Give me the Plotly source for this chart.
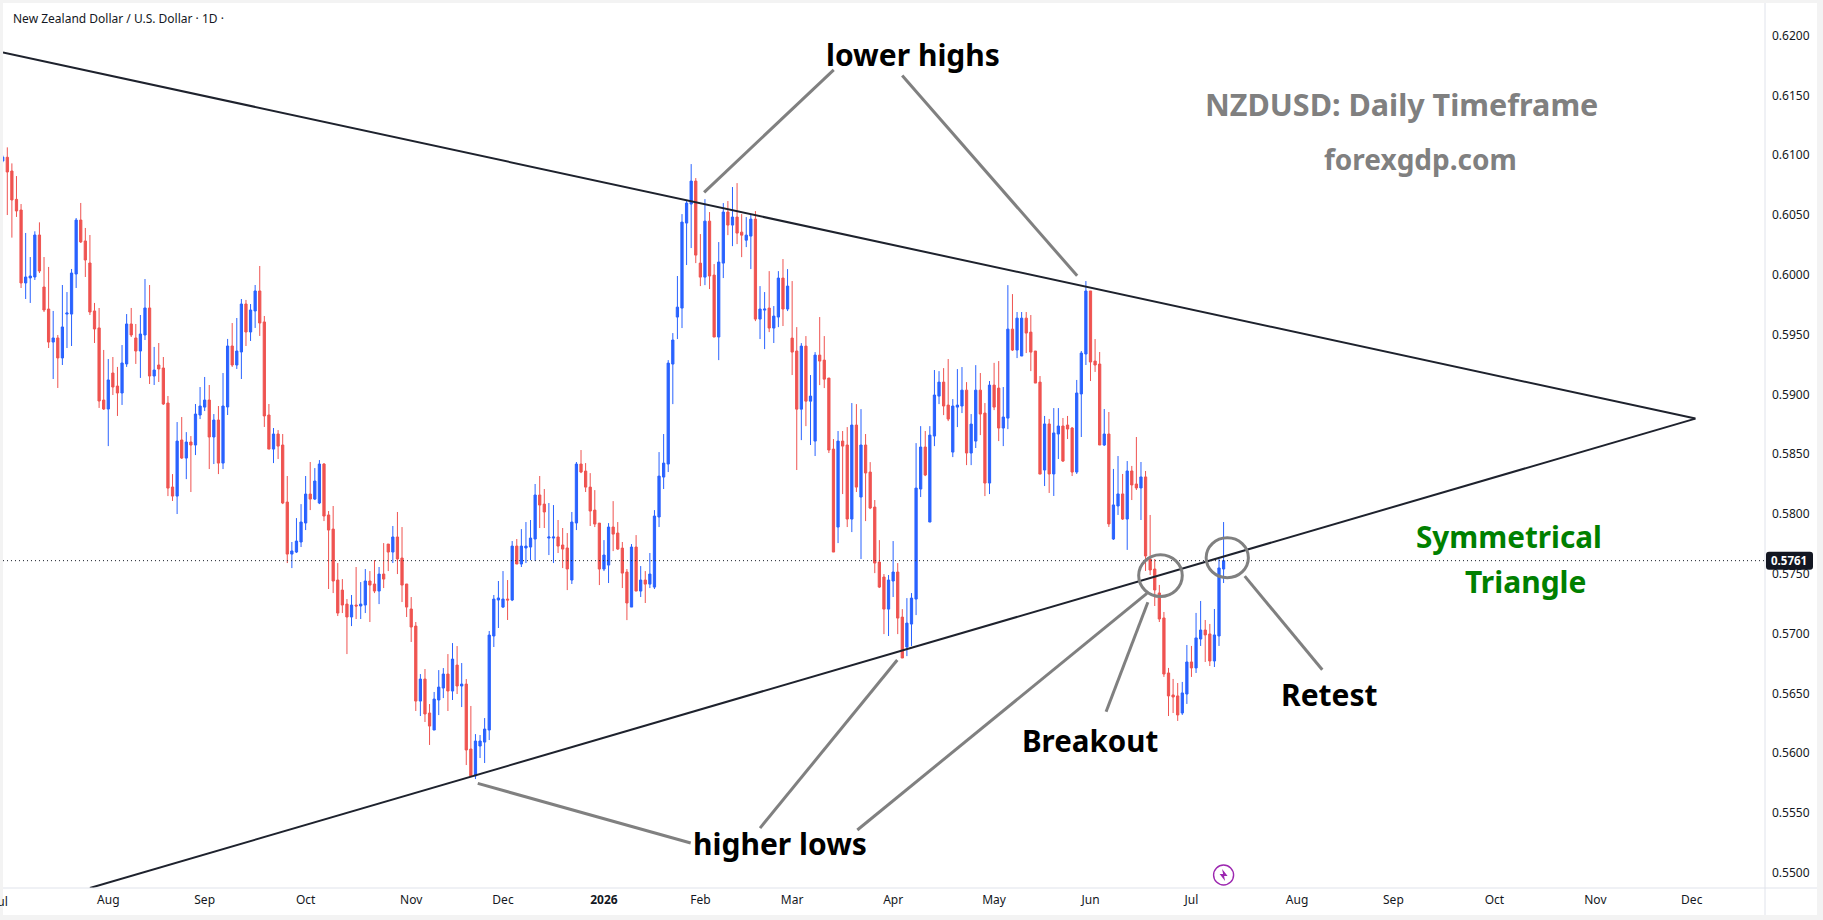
import plotly.graph_objects as go

# Daily NZD/USD candles, oldest first
opens = [
 .60952,.60983,.60868,.60631,.60542,.59932,.59974,.59982,.60333,.59898,.59714,
 .59438,.59472,.59305,.59672,.59672,.60007,.60458,.60283,.60099,.59698,
 .59556,.58953,.58878,.59179,.59070,.59012,.59255,.59589,.59472,.59363,
 .59497,.59723,.59154,.59246,.59221,.58928,.58226,.58150,.58619,.58468,
 .58602,.58577,.58828,.58894,.58953,.58644,.58786,.58426,.58895,.59405,
 .59246,.59355,.59756,.59522,.59698,.59865,.59606,.58828,.58543,.58669,
 .58577,.58100,.57665,.57682,.57766,.57925,.58167,.58125,.58092,.58418,
 .57992,.57874,.57448,.57364,.57247,.57139,.57239,.57231,.57239,.57440,
 .57415,.57356,.57498,.57749,.57682,.57808,.57632,.57415,.57206,.57063,
 .56436,.56620,.56336,.56194,.56445,.56545,.56662,.56520,.56737,.56562,
 .56578,.56035,.55810,.56060,.56093,.56194,.56980,.57281,.57222,.57289,
 .57281,.57732,.57582,.57716,.57724,.57791,.58159,.58083,.57799,.57799,
 .57808,.57741,.57716,.57448,.57925,.58418,.58359,.58225,.58033,.57924,
 .57540,.57573,.57891,.57841,.57715,.57515,.57222,.57724,.57356,.57448,
 .57414,.57389,.57975,.58309,.58418,.59254,.59647,.59722,.60433,.60592,
 .60784,.60098,.59981,.60449,.59998,.59480,.60098,.60525,.60416,.60483,
 .60357,.60290,.60324,.60466,.59630,.59705,.59722,.59555,.59647,.59973,
 .59714,.59471,.59363,.58877,.59404,.58944,.58610,.59329,.59287,.59137,
 .58543,.57891,.58610,.58577,.57958,.58744,.58142,.58577,.58351,.58058,
 .57598,.57473,.57205,.57440,.57515,.57138,.56888,.57080,.57289,.58209,
 .58560,.57933,.58652,.58986,.59103,.58911,.58518,.58894,.58903,.59036,
 .58510,.58610,.59036,.58844,.58259,.59078,.59053,.58719,.58802,.59546,
 .59371,.59321,.59638,.59521,.59363,.59103,.58368,.58753,.58335,.58669,
 .58736,.58744,.58719,.58351,.59004,.59338,.59865,.59279,.59254,.58577,
 .58669,.57791,.58067,.58168,.57958,.58360,.58251,.58218,.58310,.57624,
 .57540,.57340,.57131,.56671,.56487,.56479,.56336,.56495,.56763,.56713,
 .56955,.57030,.56997,.56771,.56980,.57540,
]
highs = [
 .61000,.61066,.60932,.60826,.60592,.60350,.60149,.60364,.60439,.60149,.60066,
 .59698,.59497,.59915,.59856,.60049,.60475,.60601,.60392,.60333,.59765,
 .59723,.59372,.59296,.59313,.59230,.59413,.59672,.59723,.59589,.59664,
 .59965,.59915,.59397,.59430,.59313,.58987,.58334,.58769,.58811,.58685,
 .58652,.58920,.59062,.59146,.59079,.58836,.58903,.59179,.59464,.59597,
 .59639,.59798,.59790,.59756,.59915,.60074,.59656,.58920,.58719,.58702,
 .58669,.58318,.57766,.57966,.58083,.58318,.58435,.58384,.58451,.58426,
 .58025,.58067,.57590,.57456,.57289,.57323,.57557,.57431,.57540,.57523,
 .57615,.57557,.57757,.57749,.57900,.58017,.57891,.57415,.57306,.57097,
 .56662,.56704,.56411,.56512,.56695,.56712,.56829,.56921,.56896,.56754,
 .56620,.56395,.56160,.56152,.56294,.57022,.57323,.57440,.57523,.57448,
 .57774,.57791,.57874,.57933,.57950,.58251,.58318,.58209,.58092,.58075,
 .57950,.57883,.57841,.58017,.58435,.58535,.58426,.58342,.58200,.57924,
 .57782,.57924,.58108,.57933,.57766,.57540,.57749,.57824,.57565,.57523,
 .57674,.58033,.58518,.58669,.59287,.59513,.59990,.60508,.60617,.60926,
 .60809,.60341,.60633,.60525,.60090,.60274,.60600,.60617,.60734,.60767,
 .60508,.60483,.60508,.60533,.59906,.59856,.60031,.59739,.60031,.60132,
 .60048,.59948,.59563,.59429,.59488,.59162,.59354,.59647,.59488,.59137,
 .58627,.58694,.58694,.58727,.58928,.58919,.58877,.58669,.58434,.58117,
 .57782,.57498,.57490,.57774,.57590,.57205,.57297,.57339,.58593,.58735,
 .58694,.58735,.59204,.59195,.59220,.59296,.58961,.59212,.59229,.59103,
 .58836,.59245,.59179,.58928,.59112,.59264,.59279,.59062,.59914,.59839,
 .59689,.59689,.59689,.59664,.59363,.59154,.58820,.58795,.58886,.58886,
 .58803,.58820,.58728,.59121,.59363,.59948,.59865,.59463,.59355,.58878,
 .58853,.58377,.58485,.58335,.58443,.58402,.58644,.58435,.58360,.57992,
 .57624,.57407,.57181,.56713,.56621,.56587,.56596,.56905,.56897,.57173,
 .57273,.57114,.57081,.57206,.57624,.57933,
]
lows = [
 .60940,.60500,.60311,.60484,.59890,.59798,.59765,.59957,.60015,.59689,.59388,
 .59129,.59054,.59246,.59388,.59405,.59890,.60266,.59982,.59664,.59430,
 .58887,.58870,.58568,.58995,.58820,.58912,.59230,.59480,.59255,.59138,
 .59455,.59087,.59079,.59104,.58912,.58150,.58109,.58000,.58460,.58292,
 .58184,.58493,.58794,.58861,.58376,.58418,.58334,.58376,.58828,.59230,
 .59213,.59129,.59405,.59447,.59556,.59489,.58728,.58543,.58426,.58460,
 .58083,.57590,.57548,.57674,.57724,.57866,.58033,.58117,.58083,.57941,
 .57373,.57339,.57147,.57172,.56829,.57063,.57122,.57122,.57172,.57097,
 .57339,.57247,.57381,.57523,.57590,.57498,.57264,.57139,.56930,.56353,
 .56311,.56261,.56069,.56194,.56319,.56461,.56353,.56445,.56495,.56386,
 .55901,.55801,.55784,.55960,.55918,.56110,.56888,.57047,.57214,.57114,
 .57272,.57582,.57557,.57590,.57615,.57607,.57883,.57883,.57657,.57590,
 .57674,.57548,.57364,.57415,.57866,.58342,.58184,.57900,.57891,.57406,
 .57523,.57423,.57690,.57699,.57381,.57113,.57222,.57356,.57306,.57256,
 .57381,.57373,.57891,.58209,.58351,.58919,.59463,.59555,.60082,.60224,
 .60098,.59906,.59914,.59881,.59480,.59287,.59973,.60332,.60240,.60257,
 .60148,.60232,.60048,.59613,.59463,.59379,.59521,.59430,.59563,.59572,
 .59697,.59162,.58368,.58618,.58735,.58577,.58485,.59078,.59053,.58510,
 .57682,.57757,.58167,.57891,.57849,.58184,.57624,.57941,.58041,.57506,
 .57381,.56996,.56980,.57306,.56996,.56796,.56812,.56896,.57155,.58142,
 .58317,.57933,.58568,.58919,.58827,.58777,.58476,.58727,.58844,.58409,
 .58409,.58552,.58660,.58150,.58167,.58869,.58610,.58568,.58710,.59363,
 .59304,.59321,.59346,.59195,.59095,.58334,.58234,.58176,.58151,.58460,
 .58435,.58627,.58318,.58335,.58644,.59246,.59112,.59188,.58577,.58569,
 .57892,.57783,.57992,.57950,.57700,.58117,.58201,.57950,.57524,.57490,
 .57231,.57097,.56638,.56311,.56336,.56270,.56320,.56412,.56638,.56671,
 .56897,.56763,.56729,.56721,.56897,.57423,
]
closes = [
 .60985,.60860,.60626,.60534,.59932,.59982,.59990,.60333,.60032,.59706,.59438,
 .59472,.59305,.59564,.59681,.60015,.60458,.60275,.60124,.59689,.59547,
 .58945,.58878,.59121,.59062,.59012,.59263,.59589,.59497,.59363,.59505,
 .59723,.59154,.59204,.59213,.58920,.58217,.58150,.58610,.58468,.58602,
 .58577,.58836,.58903,.58953,.58644,.58786,.58426,.58903,.59405,.59246,
 .59363,.59756,.59522,.59706,.59865,.59597,.58820,.58543,.58669,.58568,
 .58092,.57665,.57691,.57774,.57933,.58167,.58125,.58276,.58418,.57983,
 .57866,.57440,.57172,.57239,.57139,.57239,.57231,.57247,.57440,.57406,
 .57356,.57498,.57456,.57682,.57808,.57624,.57406,.57222,.57055,.56436,
 .56620,.56328,.56227,.56453,.56553,.56662,.56520,.56787,.56562,.56578,
 .56027,.55810,.56102,.56102,.56202,.56988,.57289,.57298,.57289,.57281,
 .57732,.57582,.57732,.57732,.57799,.58159,.58075,.58017,.57808,.57808,
 .57732,.57707,.57540,.57933,.58418,.58351,.58225,.58025,.57916,.57540,
 .57657,.57891,.57832,.57707,.57506,.57256,.57724,.57356,.57448,.57414,
 .57498,.57983,.58317,.58426,.59262,.59455,.59730,.60441,.60600,.60784,
 .60165,.59981,.60449,.59990,.59480,.60107,.60525,.60416,.60483,.60349,
 .60332,.60332,.60466,.59630,.59714,.59714,.59555,.59655,.59973,.59714,
 .59906,.59354,.58877,.59404,.58944,.58986,.59329,.59279,.59128,.58535,
 .57682,.58610,.58568,.57958,.58744,.58225,.58577,.58343,.58050,.57590,
 .57389,.57205,.57448,.57515,.57130,.56796,.57088,.57297,.58217,.58560,
 .58326,.58660,.58995,.59103,.58903,.58794,.58903,.58911,.59036,.58510,
 .58752,.59036,.58836,.58259,.59078,.58894,.58719,.58811,.59546,.59371,
 .59638,.59638,.59513,.59354,.59095,.58334,.58753,.58335,.58678,.58736,
 .58443,.58711,.58351,.59012,.59346,.59865,.59271,.59246,.58577,.58669,
 .57917,.58076,.58168,.57958,.58360,.58243,.58218,.58310,.57649,.57532,
 .57365,.57122,.56662,.56479,.56470,.56320,.56504,.56763,.56713,.56964,
 .57030,.56989,.56771,.56989,.57549,.57610,
]
assert len(opens) == len(highs) == len(lows) == len(closes)

bar_index = list(range(len(closes)))
last_price = 0.5761

# Axis labels; the x axis counts trading sessions and runs past the last bar
month_ticks = [23, 44, 66, 89, 109, 131, 152, 172, 194, 216, 237, 259, 282, 303, 325, 347, 368]
month_labels = ["Aug", "Sep", "Oct", "Nov", "Dec", "<b>2026</b>", "Feb", "Mar", "Apr", "May",
                "Jun", "Jul", "Aug", "Sep", "Oct", "Nov", "Dec"]
price_ticks = [0.55, 0.555, 0.56, 0.565, 0.57, 0.575, 0.58, 0.585, 0.59, 0.595, 0.60, 0.605, 0.61, 0.615, 0.62]

# Triangle boundaries, as (session, price) end points
upper_trend_x, upper_trend_y = [0.06, 368.8], [0.61860, 0.58798]
lower_trend_x, lower_trend_y = [19.0, 368.8], [0.54873, 0.58798]

# Grey pointer segments, as session and price pairs
pointers = [
    (181.06, 0.61714, 152.82, 0.60690),
    (195.97, 0.61666, 234.10, 0.59992),
    (149.90, 0.55249, 103.50, 0.55748),
    (165.00, 0.55374, 194.90, 0.56779),
    (186.20, 0.55358, 249.30, 0.57337),
    (240.40, 0.56347, 249.50, 0.57262),
    (270.60, 0.57481, 287.50, 0.56698),
]
circles = [
    (247.5, 0.57660, 257.0, 0.57310),
    (262.2, 0.57801, 271.4, 0.57467),
]

# Callout texts with their session and price anchors
callouts = [
    ("lower highs", 198.3, 0.61841, "#000000", 30),
    ("higher lows", 169.4, 0.55249, "#000000", 30),
    ("Breakout", 237.0, 0.56105, "#000000", 29.5),
    ("Retest", 289.0, 0.56488, "#000000", 30),
    ("Symmetrical", 328.2, 0.57808, "#008000", 29.7),
    ("Triangle", 331.7, 0.57437, "#008000", 30),
    ("NZDUSD: Daily Timeframe", 304.7, 0.61432, "#808080", 30.5),
    ("forexgdp.com", 308.8, 0.60968, "#808080", 28),
]

UP = "#2962FF"
DOWN = "#EF5350"
INK = "#131722"
AXIS = "#E0E3EB"
BAND = "#F3F3F3"
FONT = "Noto Sans"

fig = go.Figure()
fig.add_trace(go.Candlestick(
    x=bar_index, open=opens, high=highs, low=lows, close=closes,
    whiskerwidth=0, hoverinfo="skip",
    increasing=dict(line=dict(color=UP, width=1), fillcolor=UP),
    decreasing=dict(line=dict(color=DOWN, width=1), fillcolor=DOWN),
))
fig.add_trace(go.Scatter(
    x=[0.06, 383.96], y=[last_price, last_price], mode="lines",
    line=dict(color=INK, width=1, dash="1px,3px"), hoverinfo="skip",
))
for tx, ty in [(upper_trend_x, upper_trend_y), (lower_trend_x, lower_trend_y)]:
    fig.add_trace(go.Scatter(x=tx, y=ty, mode="lines",
                             line=dict(color="#1E222D", width=2), hoverinfo="skip"))

shapes = [
    # white axis strips and their border lines
    dict(type="rect", xref="paper", yref="paper", x0=1, x1=1.0295, y0=-0.0305, y1=1,
         fillcolor="white", line_width=0, layer="below"),
    dict(type="rect", xref="paper", yref="paper", x0=0, x1=1, y0=-0.0305, y1=0,
         fillcolor="white", line_width=0, layer="below"),
    dict(type="line", xref="paper", yref="paper", x0=0, x1=1.0295, y0=0, y1=0,
         line=dict(color=AXIS, width=1)),
    dict(type="line", xref="paper", yref="paper", x0=1, x1=1, y0=-0.0305, y1=1,
         line=dict(color=AXIS, width=1)),
]
for x0, y0, x1, y1 in pointers:
    shapes.append(dict(type="line", xref="x", yref="y", x0=x0, y0=y0, x1=x1, y1=y1,
                       line=dict(color="#808080", width=3)))
for x0, y0, x1, y1 in circles:
    shapes.append(dict(type="circle", xref="x", yref="y", x0=x0, y0=y0, x1=x1, y1=y1,
                       line=dict(color="#808080", width=3)))

# Rounded tag behind the last price on the price axis
shapes.append(dict(
    type="path", xref="paper", yref="y", xsizemode="pixel", ysizemode="pixel",
    xanchor=1, yanchor=last_price,
    path="M 4 -9 L 45 -9 Q 48 -9 48 -6 L 48 6 Q 48 9 45 9 L 4 9 Q 1 9 1 6 L 1 -6 Q 1 -9 4 -9 Z",
    fillcolor=INK, line_width=0,
))
# Lightning marker on the time scale
mark_x, mark_y = 266, 0.54982
shapes.append(dict(type="circle", xref="x", yref="y", xsizemode="pixel", ysizemode="pixel",
                   xanchor=mark_x, yanchor=mark_y, x0=-10, x1=10, y0=-10, y1=10,
                   line=dict(color="#9C27B0", width=1.4), fillcolor="white"))
shapes.append(dict(type="path", xref="x", yref="y", xsizemode="pixel", ysizemode="pixel",
                   xanchor=mark_x, yanchor=mark_y,
                   path="M 1.5 -6 L -4 1 L -0.5 1 L -1.5 6 L 4 -1 L 0.5 -1 Z",
                   fillcolor="#9C27B0", line_width=0))

annotations = [
    dict(text="New Zealand Dollar / U.S. Dollar · 1D ·", xref="paper", yref="paper",
         x=0.0045, y=0.983, xanchor="left", yanchor="middle", showarrow=False,
         font=dict(family=FONT, size=12, color=INK)),
    dict(text="<b>0.5761</b>", xref="paper", yref="y", x=1, y=last_price,
         xanchor="left", yanchor="middle", xshift=4, showarrow=False,
         font=dict(family=FONT, size=11.5, color="white")),
    # first month label, cut by the left edge of the page
    dict(text="Jul", xref="paper", yref="paper", x=0.004, y=-0.0155,
         xanchor="right", yanchor="middle", showarrow=False,
         font=dict(family=FONT, size=12, color=INK)),
]
for label, cx, cy, colour, size in callouts:
    annotations.append(dict(text=f"<b>{label}</b>", x=cx, y=cy, xref="x", yref="y",
                            showarrow=False, xanchor="center", yanchor="middle",
                            font=dict(family=FONT, size=size, color=colour)))

fig.update_layout(
    width=1823, height=920, autosize=False,
    margin=dict(l=3, r=58, t=3, b=32),
    paper_bgcolor=BAND, plot_bgcolor="white",
    showlegend=False, shapes=shapes, annotations=annotations,
    xaxis=dict(range=[0.063, 383.96], rangeslider=dict(visible=False), showgrid=False, zeroline=False,
               tickmode="array", tickvals=month_ticks, ticktext=month_labels, ticks="",
               tickfont=dict(family=FONT, size=12, color=INK), showline=False, ticklabelstandoff=3),
    yaxis=dict(range=[0.54873, 0.62273], side="right", showgrid=False, zeroline=False,
               tickmode="array", tickvals=price_ticks, tickformat=".4f", ticks="",
               tickfont=dict(family=FONT, size=12, color=INK), showline=False, ticklabelstandoff=6),
)
fig.write_html("out.html", config=dict(displayModeBar=False))
